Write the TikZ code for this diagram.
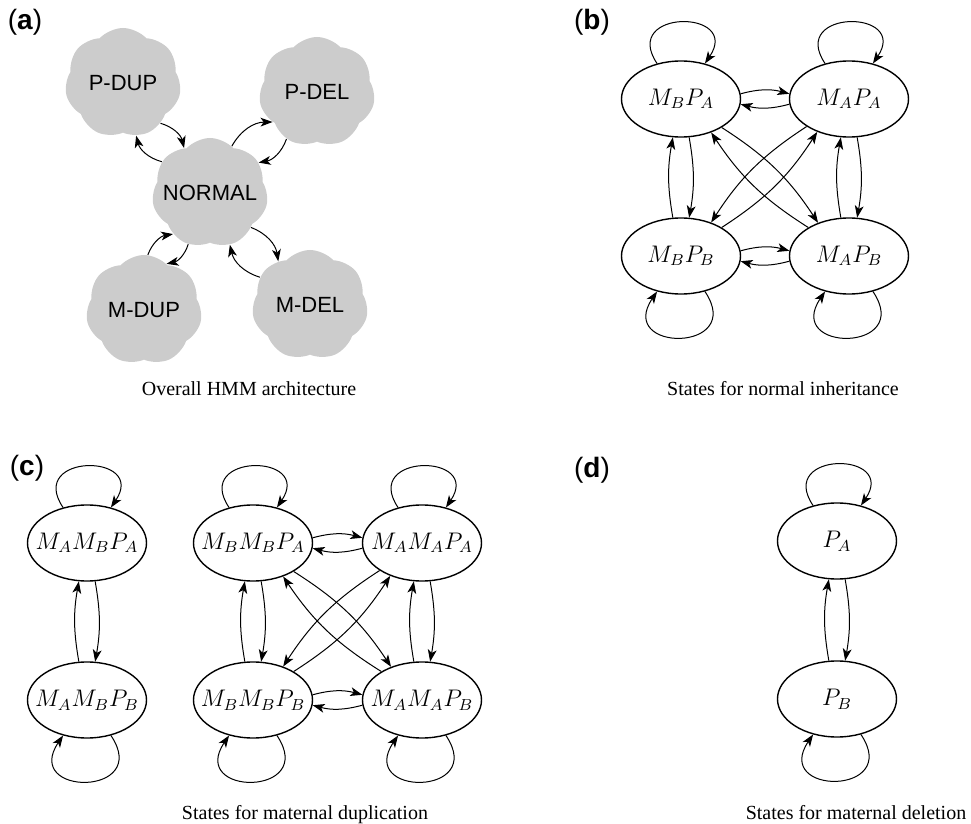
\documentclass[tikz,border=0pt]{standalone}
\usepackage{fontspec}
\setmainfont{Liberation Serif}
\setsansfont{Liberation Sans}
\usepackage{amsmath}
\usetikzlibrary{shapes.geometric,shapes.symbols,arrows.meta}

\tikzset{
    blob/.style={cloud, cloud puffs=7, cloud puff arc=95, cloud ignores aspect,
        fill=gray!40, minimum width=58pt, minimum height=55pt, inner sep=0pt,
        label={[font=\sffamily\fontsize{11}{13}\selectfont]center:#1}},
    hstate/.style={ellipse, draw, line width=0.7pt, minimum width=59.5pt,
        minimum height=38pt, inner xsep=-9pt, inner ysep=0pt, font=\large},
    trans/.style={-{Stealth[length=6pt,width=4.4pt,inset=1.6pt]}, line width=0.5pt},
    selfup/.style={out=124, in=56, min distance=33pt},
    selfdown/.style={out=304, in=236, min distance=37pt},
    panel/.style={font=\sffamily\fontsize{14}{16}\selectfont},
    caption/.style={anchor=base}
}

\begin{document}
\begin{tikzpicture}[x=0.5pt,y=-0.5pt]
            \useasboundingbox (0,0) rectangle (971,824);
            \node [panel] (lba) at (25,22) {(\textbf{a})};
            \node [panel] (lbb) at (592,22) {(\textbf{b})};
            \node [panel] (lbc) at (27,468) {(\textbf{c})};
            \node [panel] (lbd) at (592,470) {(\textbf{d})};
            \node [blob=P-DUP] (pdup) at (123,83) {};
            \node [blob=P-DEL] (pdel) at (317,92) {};
            \node [blob=NORMAL] (norm) at (210,193) {};
            \node [blob=M-DUP] (mdup) at (144,310) {};
            \node [blob=M-DEL] (mdel) at (310,305) {};
            \draw [trans] (pdup.313) to [bend left=30] (norm.120);
            \draw [trans] (norm.147) to [bend left=30] (pdup.284);
            \draw [trans] (norm.65) to [bend left=30] (pdel.214);
            \draw [trans] (pdel.237) to [bend left=30] (norm.32);
            \draw [trans] (norm.320) to [bend left=30] (mdel.126);
            \draw [trans] (mdel.151) to [bend left=30] (norm.291);
            \draw [trans] (mdup.86) to [bend left=30] (norm.228);
            \draw [trans] (norm.247) to [bend left=30] (mdup.64);
            \node [caption] (capa) at (249,395) {Overall HMM architecture};

            \node [hstate] (mbpa) at (681,99) {$M_BP_A$};
            \node [hstate] (mapa) at (849,99) {$M_AP_A$};
            \node [hstate] (mbpb) at (681,256) {$M_BP_B$};
            \node [hstate] (mapb) at (849,256) {$M_AP_B$};
            \draw [trans] (mbpa.5) to [bend left=15] (mapa.175);
            \draw [trans] (mapa.185) to [bend left=15] (mbpa.355);
            \draw [trans] (mbpb.5) to [bend left=15] (mapb.175);
            \draw [trans] (mapb.185) to [bend left=15] (mbpb.355);
            \draw [trans] (mbpa.282) to [bend left=10] (mbpb.78);
            \draw [trans] (mbpb.102) to [bend left=10] (mbpa.258);
            \draw [trans] (mapa.282) to [bend left=10] (mapb.78);
            \draw [trans] (mapb.102) to [bend left=10] (mapa.258);
            \draw [trans] (mbpa.325) to [bend left=12] (mapb.133);
            \draw [trans] (mapb.145) to [bend left=12] (mbpa.312);
            \draw [trans] (mapa.213) to [bend right=12] (mbpb.48);
            \draw [trans] (mbpb.35) to [bend right=12] (mapa.226);
            \node [caption] (capb) at (783,395) {States for normal inheritance};

            \node [hstate] (mambpa) at (87,543) {$M_AM_BP_A$};
            \node [hstate] (mambpb) at (87,700) {$M_AM_BP_B$};
            \draw [trans] (mambpa.282) to [bend left=10] (mambpb.78);
            \draw [trans] (mambpb.102) to [bend left=10] (mambpa.258);
            \node [hstate] (mbmbpa) at (253,543) {$M_BM_BP_A$};
            \node [hstate] (mamapa) at (422,543) {$M_AM_AP_A$};
            \node [hstate] (mbmbpb) at (253,700) {$M_BM_BP_B$};
            \node [hstate] (mamapb) at (422,700) {$M_AM_AP_B$};
            \draw [trans] (mbmbpa.5) to [bend left=15] (mamapa.175);
            \draw [trans] (mamapa.185) to [bend left=15] (mbmbpa.355);
            \draw [trans] (mbmbpb.5) to [bend left=15] (mamapb.175);
            \draw [trans] (mamapb.185) to [bend left=15] (mbmbpb.355);
            \draw [trans] (mbmbpa.282) to [bend left=10] (mbmbpb.78);
            \draw [trans] (mbmbpb.102) to [bend left=10] (mbmbpa.258);
            \draw [trans] (mamapa.282) to [bend left=10] (mamapb.78);
            \draw [trans] (mamapb.102) to [bend left=10] (mamapa.258);
            \draw [trans] (mbmbpa.325) to [bend left=12] (mamapb.133);
            \draw [trans] (mamapb.145) to [bend left=12] (mbmbpa.312);
            \draw [trans] (mamapa.213) to [bend right=12] (mbmbpb.48);
            \draw [trans] (mbmbpb.35) to [bend right=12] (mamapa.226);
            \node [caption] (capc) at (305,819) {States for maternal duplication};

            \node [hstate] (pa) at (837,541) {$P_A$};
            \node [hstate] (pb) at (837,699) {$P_B$};
            \draw [trans] (pa.282) to [bend left=10] (pb.78);
            \draw [trans] (pb.102) to [bend left=10] (pa.258);
            \node [caption] (capd) at (856,819) {States for maternal deletion};

            \foreach \s in {mbpa,mapa,mambpa,mbmbpa,mamapa,pa}
                \draw [trans] (\s) to [selfup] (\s);
            \foreach \s in {mbpb,mapb,mambpb,mbmbpb,mamapb,pb}
                \draw [trans] (\s) to [selfdown] (\s);
\end{tikzpicture}
\end{document}
